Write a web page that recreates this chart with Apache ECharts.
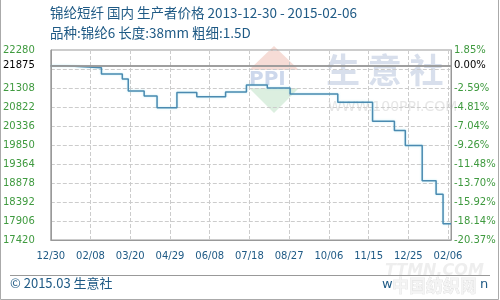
<!DOCTYPE html>
<html><head><meta charset="utf-8">
<script src="https://cdn.jsdelivr.net/npm/echarts@6/dist/echarts.min.js"></script>
<style>html,body{margin:0;padding:0;background:#fff}#c{width:500px;height:300px}</style>
</head><body><div id="c"></div>
<script>
// ---- data ----
const startDate = "2013-12-30";
const endDate = "2015-02-06";
const changeDates = ["2013-12-30","2014-01-14","2014-02-19","2014-03-12","2014-03-18","2014-04-03","2014-04-16","2014-05-06","2014-05-26","2014-06-24","2014-07-15","2014-08-05","2014-08-28","2014-10-15","2014-11-19","2014-12-11","2014-12-22","2015-01-08","2015-01-22","2015-01-29","2015-02-06"];
const prices = [21875,21825,21666,21538,21234,21103,20804,21195,21083,21206,21385,21311,21157,20945,20459,20223,19840,18937,18591,17837,17837];
const xTickLabels = ["12/30","02/08","03/20","04/29","06/08","07/18","08/27","10/06","11/15","12/25","02/06"];
const basePrice = 21875;
const yMin = 17420, yMax = 22280, yStep = 486;
const titleText = "锦纶短纤 国内 生产者价格 2013-12-30 - 2015-02-06";
const subText = "品种:锦纶6 长度:38mm 粗细:1.5D";
const footText = "© 2015.03 生意社";

// ---- helpers ----
function dayOf(s){const p=s.split('-').map(Number);const a=Date.UTC(p[0],p[1]-1,p[2]);const q=startDate.split('-').map(Number);return Math.round((a-Date.UTC(q[0],q[1]-1,q[2]))/86400000);}
const totalDays = dayOf(endDate);
const seriesData = changeDates.map((d,i)=>[dayOf(d), prices[i]]);
const hiddenTick = yMax - yStep; // replaced by base price label
const pct = v => ((v-basePrice)/basePrice*100).toFixed(2)+'%';
const green = '#3f9a3f', red = '#c8383a', blue = '#1f5a85';
const font = 'DejaVu Sans';

const chart = echarts.init(document.getElementById('c'), null, {renderer:'canvas'});
chart.setOption({
  animation:false,
  backgroundColor:'#fff',
  grid:{left:50, right:49, top:50, bottom:60, show:true, borderColor:'#999', borderWidth:1},
  xAxis:{type:'value', min:0, max:totalDays, interval:40,
    axisLine:{show:true, lineStyle:{color:'#999'}}, axisTick:{show:false},
    splitLine:{show:true, lineStyle:{color:'#ccc', type:'dashed'}},
    axisLabel:{margin:11, color:blue, fontFamily:font, fontSize:10, showMaxLabel:false,
      formatter:v=> (v%40===0 && v/40 < xTickLabels.length) ? xTickLabels[v/40] : ''}},
  yAxis:[
    {type:'value', min:yMin, max:yMax, interval:yStep, position:'left',
     axisLine:{show:true, lineStyle:{color:'#999'}}, axisTick:{show:false},
     splitLine:{show:true, lineStyle:{color:'#ccc', type:'dashed'}},
     axisLabel:{margin:16, fontFamily:font, fontSize:10, align:'right',
       color:(v)=> v===yMax ? red : green,
       formatter:v=> v===hiddenTick ? '' : String(v)}},
    {type:'value', min:yMin, max:yMax, interval:yStep, position:'right',
     axisLine:{show:true, lineStyle:{color:'#999'}}, axisTick:{show:false},
     splitLine:{show:false},
     axisLabel:{margin:3, fontFamily:font, fontSize:10, align:'left',
       color:(v)=> v===yMax ? red : green,
       formatter:v=> v===hiddenTick ? '' : pct(v)}}
  ],
  graphic:[
    {type:'rect', shape:{x:0.5,y:-2,width:498,height:301.5}, style:{fill:null, stroke:'#aaa', lineWidth:1}, silent:true},
    {type:'text', left:50, top:6, style:{text:titleText, fill:blue, font:'13.5px "Noto Sans CJK SC"'}},
    {type:'text', left:50, top:26, style:{text:subText, fill:blue, font:'13.5px "Noto Sans CJK SC"'}},
    {type:'line', shape:{x1:10,y1:275.5,x2:490,y2:275.5}, style:{stroke:'#999', lineWidth:1}, silent:true},
    {type:'text', left:10, top:277, style:{text:footText, fill:blue, font:'13px "Noto Sans CJK SC"'}},
    // central watermark
    {type:'polygon', shape:{points:[[249,70],[274,46],[299,70]]}, style:{fill:'#f6dcd6'}, z:-1, silent:true},
    {type:'polygon', shape:{points:[[249,88],[274,113],[299,88]]}, style:{fill:'#dcefe0'}, z:-1, silent:true},
    {type:'text', x:249, y:70, style:{text:'PPI', fill:'#cdd8ec', font:'bold 20px "DejaVu Sans"'}, z:-1, silent:true},
    {type:'text', x:326, y:53, style:{text:'生 意 社', fill:'#d8dfec', font:'bold 34px "Noto Sans CJK SC"'}, z:-1, silent:true},
    {type:'text', x:328, y:100, style:{text:'WWW.100PPI.COM', fill:'#e6e6e6', font:'14px "DejaVu Sans"'}, z:-1, silent:true},
    // bottom-right watermark
    {type:'text', x:385, y:263, style:{text:'TTMN.COM', fill:'#eeeeee', font:'italic bold 16px "DejaVu Sans"'}, silent:true},
    {type:'text', x:382, y:278, style:{text:'w', fill:blue, font:'13px "DejaVu Sans"'}, silent:true},
    {type:'text', x:392, y:277, style:{text:'中国纺织网', fill:'#f4f4f4', stroke:'#d8d8d8', lineWidth:0.6, font:'bold 17px "Noto Sans CJK SC"'}, silent:true},
    {type:'text', x:480, y:278, style:{text:'n', fill:blue, font:'13px "DejaVu Sans"'}, silent:true}
  ],
  series:[{
    type:'line', step:'end', showSymbol:false, symbol:'none',
    data:seriesData,
    lineStyle:{color:'#4b8ab0', width:1.5, shadowColor:'rgba(120,220,240,0.5)', shadowBlur:2},
    markLine:{symbol:'none', silent:true, animation:false,
      lineStyle:{color:'#999', type:'solid', width:1.5},
      data:[
        {yAxis:basePrice, label:{position:'start', distance:16, formatter:String(basePrice), color:'#000', fontFamily:font, fontSize:10}},
        {yAxis:basePrice, label:{position:'end', distance:3, formatter:pct(basePrice), color:'#000', fontFamily:font, fontSize:10}}
      ]},
    z:3
  }]
});
</script>
</body></html>
